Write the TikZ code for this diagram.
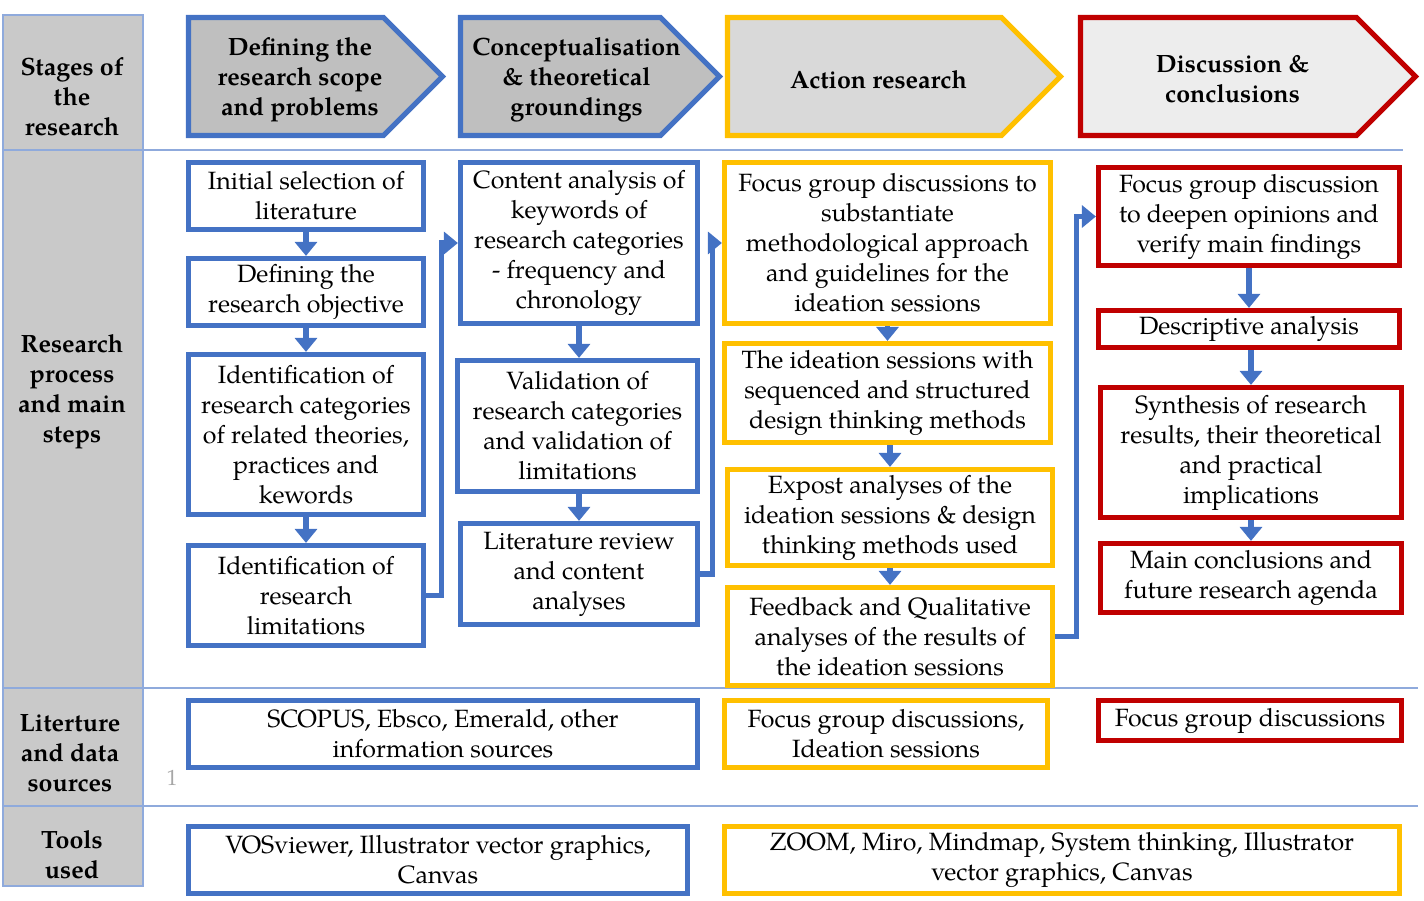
\documentclass[tikz,border=0pt]{standalone}
\usepackage{fontspec}
\setmainfont{TeX Gyre Pagella}
\usepackage{tikz}
\usetikzlibrary{shapes.symbols,arrows.meta}
\definecolor{blueline}{HTML}{4472C4}
\definecolor{goldline}{HTML}{FFC000}
\definecolor{redline}{HTML}{C00000}
\definecolor{gridline}{HTML}{8FAADC}
\definecolor{cellgray}{HTML}{C9C9C9}
\definecolor{stagedark}{HTML}{BFBFBF}
\definecolor{stagemid}{HTML}{D9D9D9}
\definecolor{stagelight}{HTML}{EDEDED}
\tikzstyle{stage} = [signal, signal to=east, signal pointer angle=90, line width=2.6pt, inner sep=1pt, minimum height=59pt]
\tikzstyle{stagetext} = [align=center, xshift=7pt, yshift=-1.5pt, font=\fontsize{12.5}{15}\selectfont\bfseries]
\tikzstyle{task} = [rectangle, line width=2.6pt, fill=white, align=center, inner sep=1pt, font=\fontsize{12.5}{15}\selectfont]
\tikzstyle{rowname} = [align=center, font=\fontsize{12.5}{15}\selectfont\bfseries]
\tikzstyle{flow} = [line width=2.6pt, draw=blueline, -{Triangle[width=11pt,length=7pt]}]

\begin{document}
\begin{tikzpicture}[x=0.5pt,y=-0.5pt]
\useasboundingbox (0,0) rectangle (1424,900);

% table on the left
\draw [gridline, fill=cellgray, line width=0.8pt] (3,15) rectangle (143,886);
\draw [gridline, line width=0.8pt] (3,150) -- (1403,150);
\draw [gridline, line width=0.8pt] (3,688) -- (1418,688);
\draw [gridline, line width=0.8pt] (3,806) -- (1418,806);
\node (rstages) [rowname] at (72,97) {Stages of\\the\\research};
\node (rprocess) [rowname] at (72,392) {Research\\process\\and main\\steps};
\node (rsources) [rowname] at (70,753) {Literture\\and data\\sources};
\node (rtools) [rowname] at (72,855) {Tools\\used};
\node (pagenum) [text=gray!70, font=\fontsize{11}{13}\selectfont] at (172,778) {1};
%
\node (scope) [stage, draw=blueline, fill=stagedark, minimum width=127pt, label={[stagetext]center:{Defining the\\research scope\\and problems}}] at (286,76.5) {};
\node (concept) [stage, draw=blueline, fill=stagedark, minimum width=129.5pt, label={[stagetext, xshift=1pt]center:{Conceptualisation\\\& theoretical\\groundings}}] at (560.5,76.5) {};
\node (action) [stage, draw=goldline, fill=stagemid, minimum width=166.5pt, label={[stagetext]center:{Action research}}] at (864.5,76.5) {};
\node (discuss) [stage, draw=redline, fill=stagelight, minimum width=167.5pt, label={[stagetext]center:{Discussion \&\\conclusions}}] at (1218.5,76.5) {};
%
\node (selection) [task, draw=blueline, minimum width=117.5pt, minimum height=33.5pt] at (306,196) {Initial selection of\\literature};
\node (objective) [task, draw=blueline, minimum width=117.5pt, minimum height=33.5pt] at (306,292) {Defining the\\research objective};
\node (categories) [task, draw=blueline, minimum width=117.5pt, minimum height=80pt] at (306,434.5) {Identification of\\research categories\\of related theories,\\practices and\\kewords};
\node (limits) [task, draw=blueline, minimum width=117.5pt, minimum height=50pt] at (306,595.5) {Identification of\\research\\limitations};
%
\node (content) [task, draw=blueline, minimum width=118.5pt, minimum height=80.5pt] at (579,243) {Content analysis of\\keywords of\\research categories\\- frequency and\\chronology};
\node (validation) [task, draw=blueline, minimum width=120pt, minimum height=65.5pt] at (577.5,426) {Validation of\\research categories\\and validation of\\limitations};
\node (review) [task, draw=blueline, minimum width=118.5pt, minimum height=50.5pt] at (579,574) {Literature review\\and content\\analyses};
%
\node (focus) [task, draw=goldline, minimum width=163pt, minimum height=80.5pt] at (887.5,243) {Focus group discussions to\\substantiate\\methodological approach\\and guidelines for the\\ideation sessions};
\node (ideation) [task, draw=goldline, minimum width=163pt, minimum height=49.5pt] at (887.5,393) {The ideation sessions with\\sequenced and structured\\design thinking methods};
\node (expost) [task, draw=goldline, minimum width=162.5pt, minimum height=48pt] at (890,517.5) {Expost analyses of the\\ideation sessions \& design\\thinking methods used};
\node (feedback) [task, draw=goldline, minimum width=162.5pt, minimum height=49pt] at (890,636.5) {Feedback and Qualitative\\analyses of the results of\\the ideation sessions};
%
\node (deepen) [task, draw=redline, minimum width=150.5pt, minimum height=49pt] at (1249,216.5) {Focus group discussion\\to deepen opinions and\\verify main findings};
\node (descriptive) [task, draw=redline, minimum width=150.5pt, minimum height=18.5pt] at (1249,329) {Descriptive analysis};
\node (synthesis) [task, draw=redline, minimum width=150.5pt, minimum height=65pt] at (1251,452.5) {Synthesis of research\\results, their theoretical\\and practical\\implications};
\node (conclusions) [task, draw=redline, minimum width=150.5pt, minimum height=34.5pt] at (1251,578) {Main conclusions and\\future research agenda};
%
\node (databases) [task, draw=blueline, minimum width=254.5pt, minimum height=33.5pt] at (443,734) {SCOPUS, Ebsco, Emerald, other\\information sources};
\node (sessions) [task, draw=goldline, minimum width=161.5pt, minimum height=33.5pt] at (886,734) {Focus group discussions,\\Ideation sessions};
\node (groups) [task, draw=redline, minimum width=151.5pt, minimum height=20pt] at (1250,720.5) {Focus group discussions};
%
\node (vosviewer) [task, draw=blueline, minimum width=249.5pt, minimum height=33.5pt] at (438,860) {VOSviewer, Illustrator vector graphics,\\Canvas};
\node (zoomtools) [task, draw=goldline, minimum width=337.5pt, minimum height=33.5pt] at (1062,860) {ZOOM, Miro, Mindmap, System thinking, Illustrator\\vector graphics, Canvas};
%
\draw [flow] (selection) -- (objective);
\draw [flow] (objective) -- (categories);
\draw [flow] (categories) -- (limits);
	\draw [flow] (limits.east) -- ++(15,0) |- (content.west);
\draw [flow] (content) -- (validation.north -| content.south);
\draw [flow] (validation.south -| review.north) -- (review);
	\draw [flow] (review.east) -- ++(12,0) |- (focus.west);
\draw [flow] (focus) -- (ideation);
\draw [flow] (ideation.south -| expost.north) -- (expost);
\draw [flow] (expost) -- (feedback);
	\draw [flow] (feedback.east) -- ++(21,0) |- (deepen.west);
\draw [flow] (deepen.south -| descriptive.north) -- (descriptive);
\draw [flow] (descriptive.south -| synthesis.north) -- (synthesis);
\draw [flow] (synthesis) -- (conclusions);
\end{tikzpicture}
\end{document}
